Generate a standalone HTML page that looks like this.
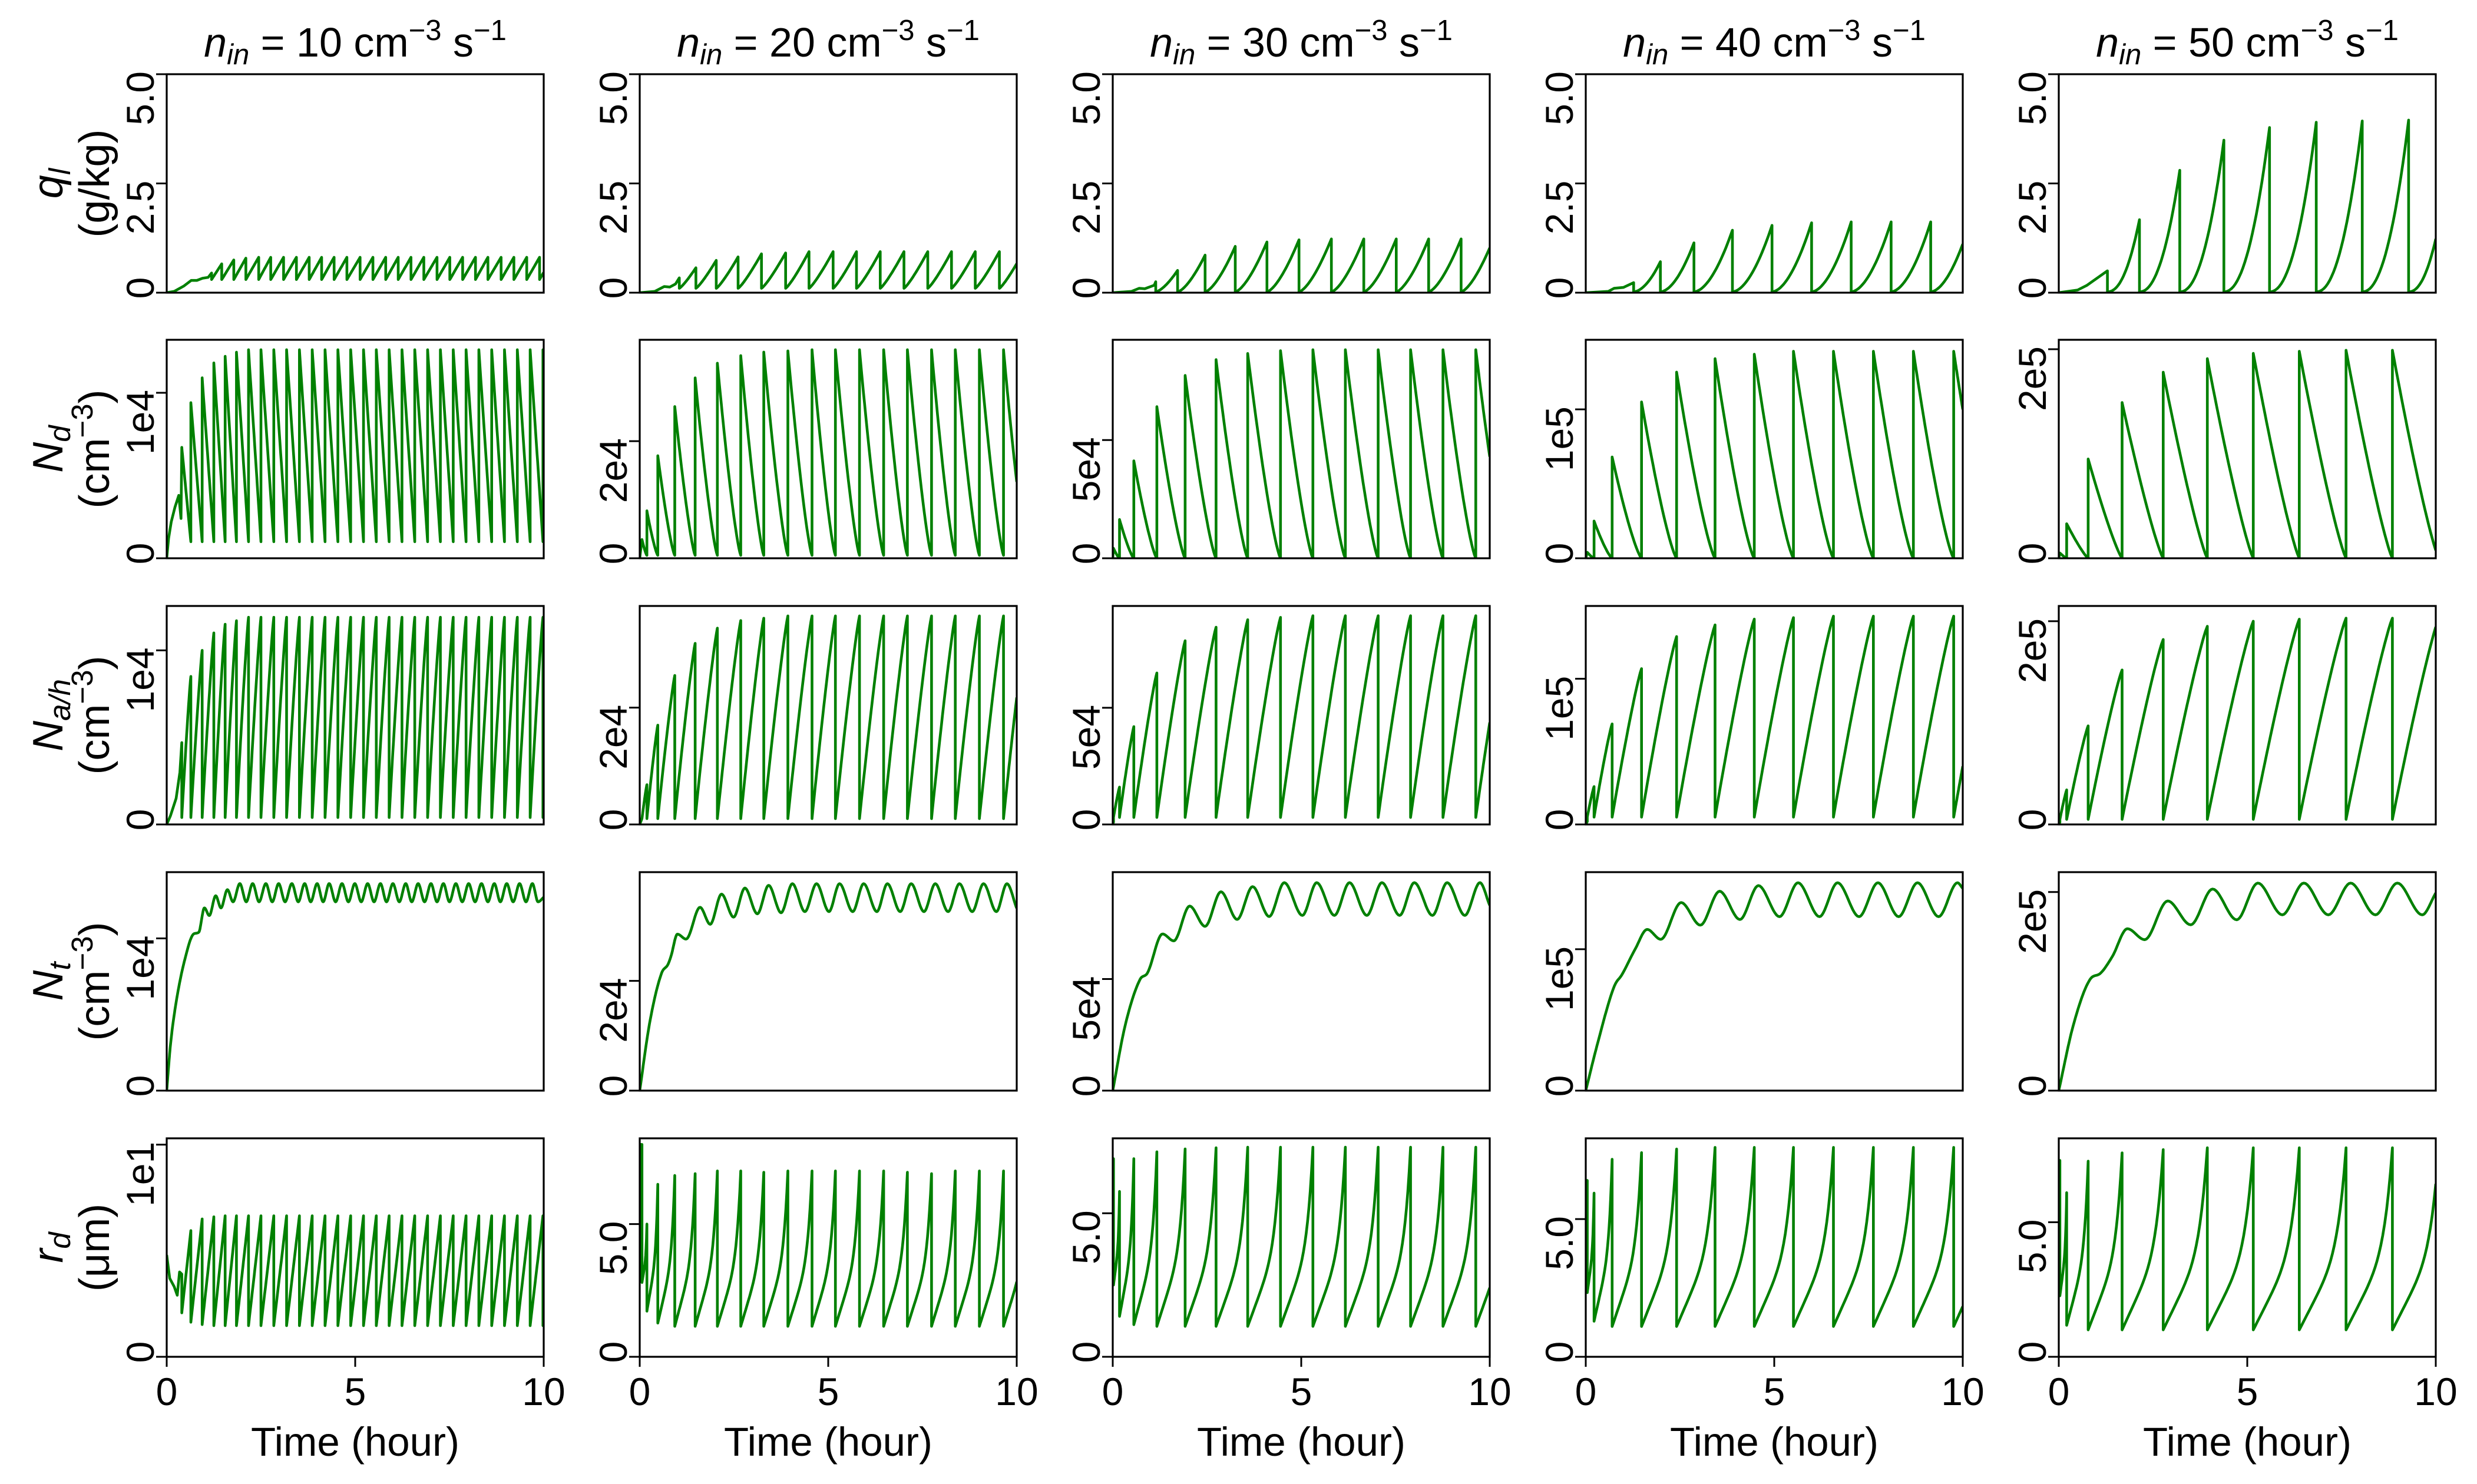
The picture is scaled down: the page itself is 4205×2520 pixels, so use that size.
<!DOCTYPE html>
<html><head><meta charset="utf-8"><title>Cloud microphysics time series</title>
<style>
html,body{margin:0;padding:0;background:#fff;}
svg{display:block;font-family:"Liberation Sans","DejaVu Sans",sans-serif;}
</style></head>
<body>
<svg id="fig" width="4205" height="2520" viewBox="0 0 4205 2520">
<rect x="0" y="0" width="4205" height="2520" fill="#fff"/>
</svg>
<script>
// ---------- data ----------
const sp1=[0.4,0.64,0.94,1.25,1.55,1.85,2.17,2.5,2.84,3.18,3.52,3.86,4.2,4.54,4.88,5.22,5.56,5.9,6.24,6.58,6.92,7.26,7.6,7.94,8.28,8.62,8.96,9.3,9.64,9.98];
const sp2=[0.06,0.19,0.48,0.93,1.47,2.06,2.68,3.29,3.93,4.57,5.19,5.83,6.47,7.1,7.74,8.37,9.01,9.65];
const sp3=[0.02,0.18,0.56,1.17,1.92,2.74,3.58,4.45,5.31,6.17,7.04,7.9,8.76,9.63];
const sp4=[0.04,0.22,0.7,1.48,2.41,3.43,4.47,5.51,6.57,7.63,8.69,9.76];
const sp5=[0.03,0.21,0.78,1.68,2.77,3.94,5.16,6.38,7.62,8.85];
const ndPk1=[0.67,0.94,1.09,1.18,1.22,1.245,1.26,1.26,1.26,1.26,1.26,1.26,1.26,1.26,1.26,1.26,1.26,1.26,1.26,1.26,1.26,1.26,1.26,1.26,1.26,1.26,1.26,1.26,1.26,1.26];
const ndPk2=[0.32,0.81,1.75,2.59,3.08,3.33,3.46,3.52,3.54,3.56,3.56,3.56,3.56,3.56,3.56,3.56,3.56,3.56];
const ndPk3=[0.42,1.64,4.12,6.41,7.73,8.4,8.66,8.78,8.82,8.82,8.82,8.82,8.82,8.82];
const ndPk4=[0.04,0.25,0.68,1.05,1.25,1.34,1.37,1.39,1.39,1.39,1.39,1.39];
const ndPk5=[0.05,0.33,0.95,1.49,1.78,1.91,1.96,1.98,1.99,1.99];
const naPk1=[0.47,0.85,1.0,1.1,1.15,1.17,1.19,1.19,1.19,1.19,1.19,1.19,1.19,1.19,1.19,1.19,1.19,1.19,1.19,1.19,1.19,1.19,1.19,1.19,1.19,1.19,1.19,1.19,1.19,1.19];
const naPk2=[0.1,0.68,1.7,2.55,3.1,3.36,3.49,3.53,3.57,3.57,3.57,3.57,3.57,3.57,3.57,3.57,3.57,3.57];
const naPk3=[0.1,1.6,4.19,6.49,7.87,8.45,8.77,8.87,8.94,8.94,8.94,8.94,8.94,8.94];
const naPk4=[0.02,0.26,0.69,1.07,1.29,1.37,1.41,1.42,1.43,1.43,1.43,1.43];
const naPk5=[0.02,0.34,0.97,1.52,1.82,1.95,2.0,2.02,2.03,2.03];
const rdPk1=[3.9,5.95,6.5,6.6,6.65,6.65,6.65,6.65,6.65,6.65,6.65,6.65,6.65,6.65,6.65,6.65,6.65,6.65,6.65,6.65,6.65,6.65,6.65,6.65,6.65,6.65,6.65,6.65,6.65,6.65];
const rdTr1=[2.07,1.63,1.52,1.47,1.47,1.47,1.47,1.47,1.47,1.47,1.47,1.47,1.47,1.47,1.47,1.47,1.47,1.47,1.47,1.47,1.47,1.47,1.47,1.47,1.47,1.47,1.47,1.47,1.47,1.47];
const rdPk2=[8.0,5.0,6.5,6.83,6.9,7.0,7.0,6.95,7.0,7.0,7.0,7.0,7.0,6.95,6.9,7.0,7.0,7.0];
const rdTr2=[2.8,1.72,1.27,1.15,1.15,1.15,1.15,1.15,1.15,1.15,1.15,1.15,1.15,1.15,1.15,1.15,1.15,1.15];
const rdPk3=[6.9,5.76,6.9,7.14,7.24,7.28,7.3,7.3,7.3,7.3,7.3,7.3,7.3,7.3];
const rdTr3=[2.5,1.41,1.12,1.06,1.06,1.06,1.06,1.06,1.06,1.06,1.06,1.06,1.06,1.06];
const rdPk4=[6.4,5.94,7.17,7.41,7.54,7.6,7.6,7.6,7.6,7.6,7.6,7.6];
const rdTr4=[2.33,1.29,1.1,1.1,1.1,1.1,1.1,1.1,1.1,1.1,1.1,1.1];
const rdPk5=[7.3,6.1,7.27,7.58,7.7,7.77,7.77,7.77,7.77,7.77];
const rdTr5=[2.27,1.17,1.0,1.0,1.0,1.0,1.0,1.0,1.0,1.0];
const qT1=[1.19,1.46,1.78,2.1,2.44,2.76,3.1,3.44,3.78,4.11,4.44,4.78,5.13,5.47,5.81,6.14,6.48,6.82,7.17,7.51,7.85,8.19,8.52,8.87,9.21,9.55,9.89];
const qP1=[0.45,0.66,0.75,0.79,0.81,0.81,0.81,0.81,0.81,0.81,0.81,0.81,0.81,0.81,0.81,0.81,0.81,0.81,0.81,0.81,0.81,0.81,0.81,0.81,0.81,0.81,0.81];
const qT2=[1.05,1.49,2.03,2.61,3.23,3.87,4.49,5.13,5.75,6.38,7.01,7.64,8.27,8.9,9.54];
const qP2=[0.34,0.57,0.74,0.82,0.89,0.91,0.94,0.94,0.94,0.94,0.94,0.94,0.94,0.94,0.94];
const qT3=[1.14,1.72,2.45,3.25,4.09,4.94,5.8,6.66,7.52,8.38,9.24];
const qP3=[0.25,0.51,0.86,1.06,1.16,1.21,1.23,1.23,1.23,1.23,1.23];
const qT4=[1.27,1.98,2.87,3.89,4.94,5.99,7.04,8.1,9.15];
const qP4=[0.23,0.71,1.14,1.43,1.54,1.6,1.62,1.62,1.62];
const qT5=[1.29,2.14,3.21,4.38,5.59,6.83,8.05,9.28];
const qP5=[0.5,1.67,2.8,3.49,3.78,3.9,3.93,3.95];
const qPre1=[[0,0],[0.2,0.03],[0.45,0.15],[0.65,0.28],[0.8,0.28],[0.95,0.33],[1.1,0.35]];
const qPre2=[[0,0],[0.4,0.03],[0.65,0.14],[0.8,0.13],[0.95,0.2]];
const qPre3=[[0,0],[0.5,0.03],[0.7,0.1],[0.85,0.09],[1.1,0.17]];
const qPre4=[[0,0],[0.6,0.03],[0.75,0.1],[1.0,0.12]];
const qPre5=[[0,0],[0.5,0.06],[0.75,0.17]];
const ndPre1=[[0,0],[0.05,0.12],[0.12,0.22],[0.22,0.31],[0.32,0.38],[0.38,0.24]];
const naPre1=[[0,0],[0.1,0.05],[0.25,0.15],[0.35,0.3]];
const rdPre1=[[0,4.8],[0.08,3.7],[0.2,3.3],[0.28,2.9],[0.34,4.0]];
const ntT1=[0,0.1,0.25,0.5,0.72,0.85,1.0,1.13,1.3,1.44,1.61,1.76,1.94,2.11,2.28,2.45,2.63,2.8,2.97,3.14,3.32,3.49,3.66,3.82,3.99,4.15,4.31,4.48,4.65,4.82,4.99,5.16,5.33,5.5,5.67,5.83,6.0,6.17,6.34,6.5,6.67,6.84,7.01,7.17,7.34,7.5,7.67,7.84,8.01,8.18,8.35,8.52,8.69,8.85,9.02,9.19,9.36,9.53,9.7,9.85,10];
const ntV1=[0,0.3,0.58,0.88,1.03,1.04,1.2,1.15,1.28,1.2,1.32,1.24,1.36,1.24,1.36,1.24,1.36,1.24,1.36,1.24,1.36,1.24,1.36,1.24,1.36,1.24,1.36,1.24,1.36,1.24,1.36,1.24,1.36,1.24,1.36,1.24,1.36,1.24,1.36,1.24,1.36,1.24,1.36,1.24,1.36,1.24,1.36,1.24,1.36,1.24,1.36,1.24,1.36,1.24,1.36,1.24,1.36,1.24,1.36,1.24,1.27];
const ntT2=[0,0.26,0.58,0.75,0.83,1.0,1.23,1.6,1.87,2.17,2.49,2.79,3.12,3.42,3.75,4.05,4.38,4.69,5.02,5.3,5.65,5.94,6.29,6.57,6.91,7.2,7.54,7.84,8.18,8.48,8.82,9.12,9.46,9.74,10];
const ntV2=[0,1.22,2.14,2.3,2.45,2.85,2.76,3.34,3.03,3.58,3.16,3.69,3.22,3.74,3.24,3.77,3.26,3.77,3.26,3.77,3.26,3.77,3.26,3.77,3.26,3.77,3.26,3.77,3.26,3.77,3.26,3.77,3.26,3.77,3.32];
const ntT3=[0,0.32,0.72,0.92,1.32,1.62,2.04,2.45,2.87,3.3,3.71,4.15,4.55,5.03,5.41,5.88,6.28,6.74,7.14,7.61,8.0,8.48,8.87,9.34,9.74,10];
const ntV3=[0,2.85,4.97,5.27,7.02,6.71,8.27,7.36,8.91,7.67,9.14,7.8,9.32,7.85,9.32,7.85,9.32,7.85,9.32,7.85,9.32,7.85,9.32,7.85,9.32,8.3];
const ntT4=[0,0.32,0.76,0.96,1.31,1.63,1.99,2.53,3.04,3.55,4.09,4.58,5.14,5.63,6.2,6.68,7.25,7.75,8.3,8.8,9.36,9.86,10];
const ntV4=[0,0.34,0.74,0.82,1.0,1.14,1.07,1.33,1.17,1.41,1.21,1.45,1.23,1.47,1.23,1.47,1.23,1.47,1.23,1.47,1.23,1.47,1.43];
const ntT5=[0,0.38,0.83,1.1,1.42,1.82,2.28,2.89,3.5,4.08,4.72,5.28,5.93,6.5,7.15,7.74,8.4,8.98,9.64,10];
const ntV5=[0,0.65,1.12,1.18,1.35,1.63,1.52,1.91,1.67,2.03,1.72,2.09,1.77,2.09,1.77,2.09,1.77,2.09,1.77,1.99];
const colNin=["10","20","30","40","50"];
const ndTickVal=[1,2,5,1,2];
const ndTickLab=["1e4","2e4","5e4","1e5","2e5"];
const rdTickVal=[10,5,5,5,5];
const rdTickLab=["1e1","5.0","5.0","5.0","5.0"];
const qTickVal=[0,2.5,5];
const qTickLab=["0","2.5","5.0"];
const xTickVal=[0,5,10];
const xTickLab=["0","5","10"];

// ---------- layout / scales ----------
const X0=[283,1086,1889,2692,3495], W=640;
const Y0=[126,577,1029,1481,1933], H=371;
const yMax=[[5,5,5,5,5],[1.32,3.73,9.24,1.467,2.09],[1.255,3.74,9.36,1.5,2.15],[1.435,3.98,9.79,1.545,2.2],[10.3,8.23,7.61,7.93,8.12]];
const qExp=[1.0,1.2,1.5,1.8,2.2], qBase=[0.3,0.1,0.02,0.02,0.02];
const ndExp=[1.0,1.3,1.3,1.3,1.2], ndTr=[0.1,0.05,0,0,0];
const naTr=[0.04,0.1,0.3,0.05,0.05];
const rdShape=[0,1,1,1,1];

const SP=[sp1,sp2,sp3,sp4,sp5], NDP=[ndPk1,ndPk2,ndPk3,ndPk4,ndPk5], NAP=[naPk1,naPk2,naPk3,naPk4,naPk5];
const RDP=[rdPk1,rdPk2,rdPk3,rdPk4,rdPk5], RDT=[rdTr1,rdTr2,rdTr3,rdTr4,rdTr5];
const QT=[qT1,qT2,qT3,qT4,qT5], QP=[qP1,qP2,qP3,qP4,qP5], QPRE=[qPre1,qPre2,qPre3,qPre4,qPre5];
const NTT=[ntT1,ntT2,ntT3,ntT4,ntT5], NTV=[ntV1,ntV2,ntV3,ntV4,ntV5];

function xs(c,t){return X0[c]+t/10*W;}
function ys(r,c,v){return Y0[r]+H-v/yMax[r][c]*H;}

const NS=24;
function cyc(i,arr){const t0=arr[i];const t1=i<arr.length-1?arr[i+1]:10;const per=i<arr.length-1?t1-t0:(arr[i]-arr[i-1]);return [t0,t1,per];}
function qSeries(c){const T=QT[c],P=QP[c],b=qBase[c],e=qExp[c];const pts=QPRE[c].slice();pts.push([T[0],P[0]]);
 for(let i=0;i<T.length;i++){const [t0,t1,per]=cyc(i,T);const tg=i<T.length-1?P[i+1]:P[i];pts.push([t0,b]);
  for(let k=1;k<=NS;k++){const t=t0+(t1-t0)*k/NS;const s=Math.min(1,(t-t0)/per);pts.push([t,b+(tg-b)*Math.pow(s,e)]);}}
 return pts;}
function ndSeries(c){const T=SP[c],P=NDP[c],tr=ndTr[c],p=ndExp[c];const pts=c===0?ndPre1.slice():[[0,0]];
 for(let i=0;i<T.length;i++){const [t0,t1,per]=cyc(i,T);pts.push([t0,P[i]]);
  for(let k=1;k<=NS;k++){const t=t0+(t1-t0)*k/NS;const s=Math.min(1,(t-t0)/per);pts.push([t,tr+(P[i]-tr)*Math.pow(1-s,p)]);}}
 return pts;}
function naSeries(c){const T=SP[c],P=NAP[c],tr=naTr[c];const pts=c===0?naPre1.slice():[[0,0]];pts.push([T[0],P[0]]);
 for(let i=0;i<T.length;i++){const [t0,t1,per]=cyc(i,T);const tg=i<T.length-1?P[i+1]:P[i];pts.push([t0,tr]);
  for(let k=1;k<=NS;k++){const t=t0+(t1-t0)*k/NS;const s=Math.min(1,(t-t0)/per);pts.push([t,tr+(tg-tr)*(1-Math.pow(1-s,1.15))]);}}
 return pts;}
function rdSeries(c){const T=SP[c],P=RDP[c],TR=RDT[c];const pts=c===0?rdPre1.slice():[[0,P[0]]];pts.push([T[0],P[0]]);
 for(let i=0;i<T.length;i++){const [t0,t1,per]=cyc(i,T);const tg=i<T.length-1?P[i+1]:P[i];const tr=TR[i];pts.push([t0,tr]);
  for(let k=1;k<=NS;k++){const t=t0+(t1-t0)*k/NS;const s=Math.min(1,(t-t0)/per);const f=rdShape[c]?0.5*(s+Math.pow(s,6)):s;pts.push([t,tr+(tg-tr)*f]);}}
 return pts;}
function ntSeries(c){const X=NTT[c],Y=NTV[c],n=X.length;const d=[],m=new Array(n).fill(0);
 for(let i=0;i<n-1;i++)d.push((Y[i+1]-Y[i])/(X[i+1]-X[i]));
 m[0]=d[0];m[n-1]=d[n-2];
 for(let i=1;i<n-1;i++){m[i]=(d[i-1]*d[i]<=0)?0:(d[i-1]+d[i])/2;}
 for(let i=0;i<n-1;i++){if(d[i]===0){m[i]=0;m[i+1]=0;continue;}const a=m[i]/d[i],b=m[i+1]/d[i];const h=a*a+b*b;if(h>9){const tt=3/Math.sqrt(h);m[i]=tt*a*d[i];m[i+1]=tt*b*d[i];}}
 const pts=[[X[0],Y[0]]];
 for(let i=0;i<n-1;i++){const h=X[i+1]-X[i];for(let k=1;k<=14;k++){const s=k/14,s2=s*s,s3=s2*s;
  const v=(2*s3-3*s2+1)*Y[i]+(s3-2*s2+s)*h*m[i]+(-2*s3+3*s2)*Y[i+1]+(s3-s2)*h*m[i+1];pts.push([X[i]+h*s,v]);}}
 return pts;}

// ---------- drawing ----------
const svg=document.getElementById('fig');
const SVGNS=svg.namespaceURI;
function el(tag,parent){const e=document.createElementNS(SVGNS,tag);parent.appendChild(e);return e;}
const defs=el('defs',svg);
const rowNames=['liquid-water','droplet-number','aerosol-number','total-number','droplet-radius'];
const builders=[qSeries,ndSeries,naSeries,ntSeries,rdSeries];
const TFS=66;

for(let r=0;r<5;r++){for(let c=0;c<5;c++){
 const g=el('g',svg);
 
 
 const cp=el('clipPath',defs);cp.setAttribute('id','cp'+r+c);
 const cr=el('rect',cp);cr.setAttribute('x',X0[c]);cr.setAttribute('y',Y0[r]);cr.setAttribute('width',W);cr.setAttribute('height',H);
 const pts=builders[r](c);
 const path=el('path',g);
 path.setAttribute('d','M'+pts.map(p=>xs(c,p[0]).toFixed(1)+','+ys(r,c,p[1]).toFixed(1)).join('L'));
 path.setAttribute('fill','none');path.setAttribute('stroke','#008000');path.setAttribute('stroke-width','4.6');path.setAttribute('stroke-linejoin','round');
 path.setAttribute('clip-path','url(#cp'+r+c+')');
 
 
 const fr=el('rect',g);
 fr.setAttribute('x',X0[c]);fr.setAttribute('y',Y0[r]);fr.setAttribute('width',W);fr.setAttribute('height',H);
 fr.setAttribute('fill','none');fr.setAttribute('stroke','#000');fr.setAttribute('stroke-width','3.2');
 
 
 let tv,tl;
 if(r===0){tv=qTickVal;tl=qTickLab;}
 else if(r===4){tv=[0,rdTickVal[c]];tl=['0',rdTickLab[c]];}
 else {tv=[0,ndTickVal[c]];tl=['0',ndTickLab[c]];}
 for(let k=0;k<tv.length;k++){
  const y=ys(r,c,tv[k]);
  const tk=el('line',g);
  tk.setAttribute('x1',X0[c]-18);tk.setAttribute('x2',X0[c]);tk.setAttribute('y1',y);tk.setAttribute('y2',y);
  tk.setAttribute('stroke','#000');tk.setAttribute('stroke-width','3');
  
  
  const tx=el('text',g);
  const isZero=tl[k]==='0';
  const ay=isZero?y-8:y-5;
  tx.setAttribute('transform','translate('+(X0[c]-22)+','+ay+') rotate(-90)');
  tx.setAttribute('text-anchor',isZero?'middle':'end');
  tx.setAttribute('font-size',TFS);
  tx.textContent=tl[k];
  
  
 }
 if(r===4){
  for(let k=0;k<xTickVal.length;k++){
   const x=xs(c,xTickVal[k]);
   const tk=el('line',g);
   tk.setAttribute('x1',x);tk.setAttribute('x2',x);tk.setAttribute('y1',Y0[r]+H);tk.setAttribute('y2',Y0[r]+H+17);
   tk.setAttribute('stroke','#000');tk.setAttribute('stroke-width','3');
   
   
   const tx=el('text',g);
   tx.setAttribute('x',x);tx.setAttribute('y',2386);tx.setAttribute('text-anchor','middle');tx.setAttribute('font-size',TFS);
   tx.textContent=xTickLab[k];
   
   
  }
  const xl=el('text',g);
  xl.setAttribute('x',X0[c]+W/2);xl.setAttribute('y',2472);xl.setAttribute('text-anchor','middle');xl.setAttribute('font-size',69);
  xl.textContent='Time (hour)';
  
  
 }
}}

for(let c=0;c<5;c++){
 const t=el('text',svg);
 t.setAttribute('x',X0[c]+W/2);t.setAttribute('y',96);t.setAttribute('text-anchor','middle');t.setAttribute('font-size',70);
 
 
 const a=el('tspan',t);a.setAttribute('font-style','italic');a.textContent='n';
 const b=el('tspan',t);b.setAttribute('font-style','italic');b.setAttribute('font-size',49);b.setAttribute('dy',13);b.textContent='in';
 const d=el('tspan',t);d.setAttribute('dy',-13);d.textContent=' = '+colNin[c]+' cm';
 const e=el('tspan',t);e.setAttribute('font-size',49);e.setAttribute('dy',-28);e.textContent='\u22123';
 const f=el('tspan',t);f.setAttribute('dy',28);f.textContent=' s';
 const h=el('tspan',t);h.setAttribute('font-size',49);h.setAttribute('dy',-28);h.textContent='\u22121';
}

const rowSym=['q','N','N','N','r'];
const rowSub=['l','d','a/h','t','d'];
for(let r=0;r<5;r++){
 const cy=Y0[r]+H/2;
 const l1=el('text',svg);
 l1.setAttribute('transform','translate(106,'+cy+') rotate(-90)');
 l1.setAttribute('text-anchor','middle');l1.setAttribute('font-size',72);
 
 
 const s1=el('tspan',l1);s1.setAttribute('font-style','italic');s1.textContent=rowSym[r];
 const s2=el('tspan',l1);s2.setAttribute('font-style','italic');s2.setAttribute('font-size',51);s2.setAttribute('dy',13);s2.textContent=rowSub[r];
 const l2=el('text',svg);
 l2.setAttribute('transform','translate(185,'+cy+') rotate(-90)');
 l2.setAttribute('text-anchor','middle');l2.setAttribute('font-size',72);
 
 
 if(r===0){l2.textContent='(g/kg)';}
 else if(r===4){l2.textContent='(\u03bcm)';}
 else{
  const u1=el('tspan',l2);u1.textContent='(cm';
  const u2=el('tspan',l2);u2.setAttribute('font-size',51);u2.setAttribute('dy',-28);u2.textContent='\u22123';
  const u3=el('tspan',l2);u3.setAttribute('dy',28);u3.textContent=')';
 }
}
</script>
</body></html>
